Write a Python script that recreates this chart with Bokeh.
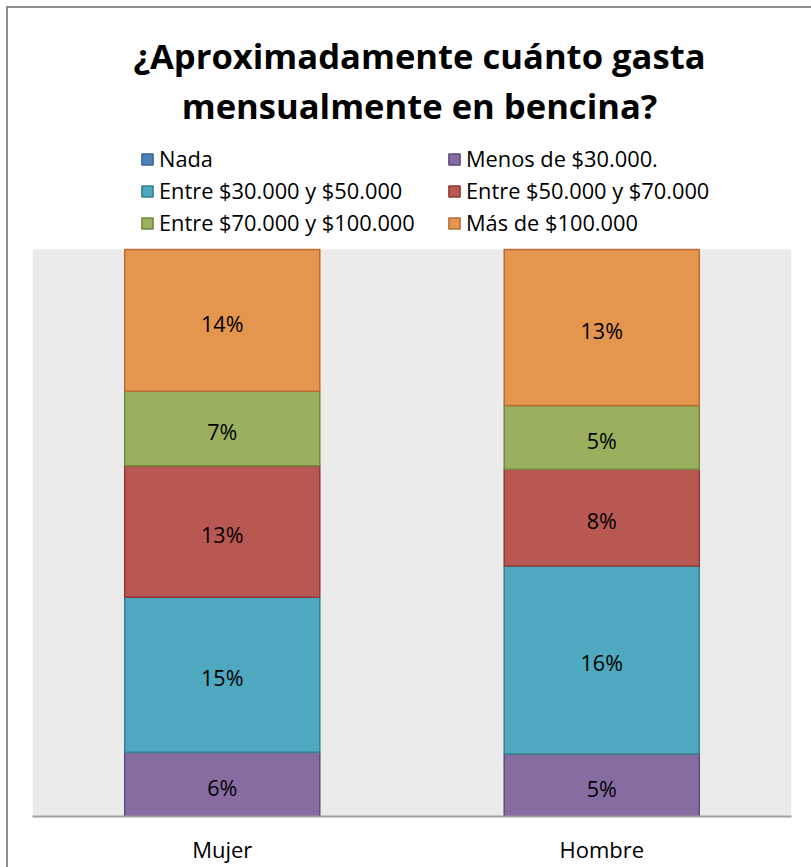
from bokeh.plotting import figure
from bokeh.models import (ColumnDataSource, Range1d, FactorRange, Legend, LegendItem,
                          Label, LabelSet, BoxAnnotation)
from bokeh.core.properties import value
from bokeh.embed import file_html
from bokeh.resources import INLINE

# ---- data -------------------------------------------------------------
categories = ["Mujer", "Hombre"]
series = ["Nada", "Menos de $30.000.", "Entre $30.000 y $50.000",
          "Entre $50.000 y $70.000", "Entre $70.000 y $100.000", "Más de $100.000"]
nada = [0.0, 0.0]
menos_30 = [6.3, 5.3]
entre_30_50 = [15.2, 15.9]
entre_50_70 = [12.9, 8.2]
entre_70_100 = [7.3, 5.4]
mas_100 = [13.9, 13.2]
title_lines = ["¿Aproximadamente cuánto gasta", "mensualmente en bencina?"]

fill_colors = ["#4F81BD", "#866CA0", "#4EA8BF", "#B95852", "#9BB05E", "#E4954E"]
line_colors = ["#3A6596", "#5E4A7A", "#34808F", "#8E3B38", "#72893F", "#B46E33"]

values = [nada, menos_30, entre_30_50, entre_50_70, entre_70_100, mas_100]
keys = ["s%d" % i for i in range(len(values))]
totals = [sum(v[i] for v in values) for i in range(len(categories))]

data = {"cat": categories}
for k, v in zip(keys, values):
    data[k] = [v[i] / totals[i] * 100.0 for i in range(len(categories))]
src = ColumnDataSource(data)

lx, ly, lt = [], [], []
for i, c in enumerate(categories):
    base = 0.0
    for k, v in zip(keys, values):
        h = data[k][i]
        if v[i] > 0:
            lx.append(c)
            ly.append(base + h / 2.0)
            lt.append("%d%%" % round(v[i]))
        base += h
lsrc = ColumnDataSource(dict(x=lx, y=ly, t=lt))

# ---- figure ------------------------------------------------------------
FRAME_H = 816          # frame spans page y 0..816
PLOT_H = 567           # grey plot area height (100 %)
p = figure(x_range=FactorRange(*categories),
           y_range=Range1d(0, 100.0 * FRAME_H / PLOT_H),
           width=811, height=867, output_backend="svg", toolbar_location=None,
           y_axis_location=None, min_border_left=32, min_border_right=20,
           min_border_top=0, min_border_bottom=51)
p.styles = {"background": "linear-gradient(#8E8E8E,#8E8E8E) 6px 6px / 2px 100% no-repeat, "
                          "linear-gradient(#8E8E8E,#8E8E8E) 6px 6px / 100% 2px no-repeat, white"}
p.background_fill_alpha = 0
p.border_fill_alpha = 0
p.outline_line_color = None
p.xgrid.visible = False
p.ygrid.visible = False

p.add_layout(BoxAnnotation(bottom=0, top=100, fill_color="#EBEBEB", fill_alpha=1,
                           line_alpha=0, level="underlay"))

renderers = p.vbar_stack(keys, x="cat", width=0.514, source=src,
                         fill_color=fill_colors, line_color=line_colors,
                         line_width=1.5)

p.add_layout(LabelSet(x="x", y="y", text="t", source=lsrc, text_align="center",
                      text_baseline="middle", text_font=value("Open Sans"),
                      text_font_size="21.5px", text_color="black", y_offset=-3))

ax = p.xaxis[0]
ax.axis_line_color = "#A0A0A0"
ax.axis_line_width = 2
ax.major_tick_line_color = None
ax.minor_tick_line_color = None
ax.major_tick_in = 0
ax.major_tick_out = 0
ax.major_label_standoff = 17
ax.major_label_text_font = "Open Sans"
ax.major_label_text_font_size = "22px"
ax.major_label_text_color = "black"

items = [LegendItem(label=s, renderers=[r]) for s, r in zip(series, renderers)]
legend = Legend(items=items, location=(108, 579), orientation="horizontal", ncols=2,
                glyph_width=14, glyph_height=14, label_standoff=5,
                label_width=285, label_height=20, spacing=3, padding=0, margin=0,
                border_line_alpha=0, background_fill_alpha=0,
                label_text_font="Open Sans", label_text_font_size="21.8px",
                label_text_color="black")
p.add_layout(legend, "center")

for txt, yy in zip(title_lines, [761, 711]):
    p.add_layout(Label(x=387, y=yy, x_units="screen", y_units="screen", text=txt,
                       text_align="center", text_baseline="alphabetic",
                       text_font="Open Sans", text_font_style="bold",
                       text_font_size="34.6px", text_color="black"))

open("out.html", "w").write(file_html(p, INLINE))
